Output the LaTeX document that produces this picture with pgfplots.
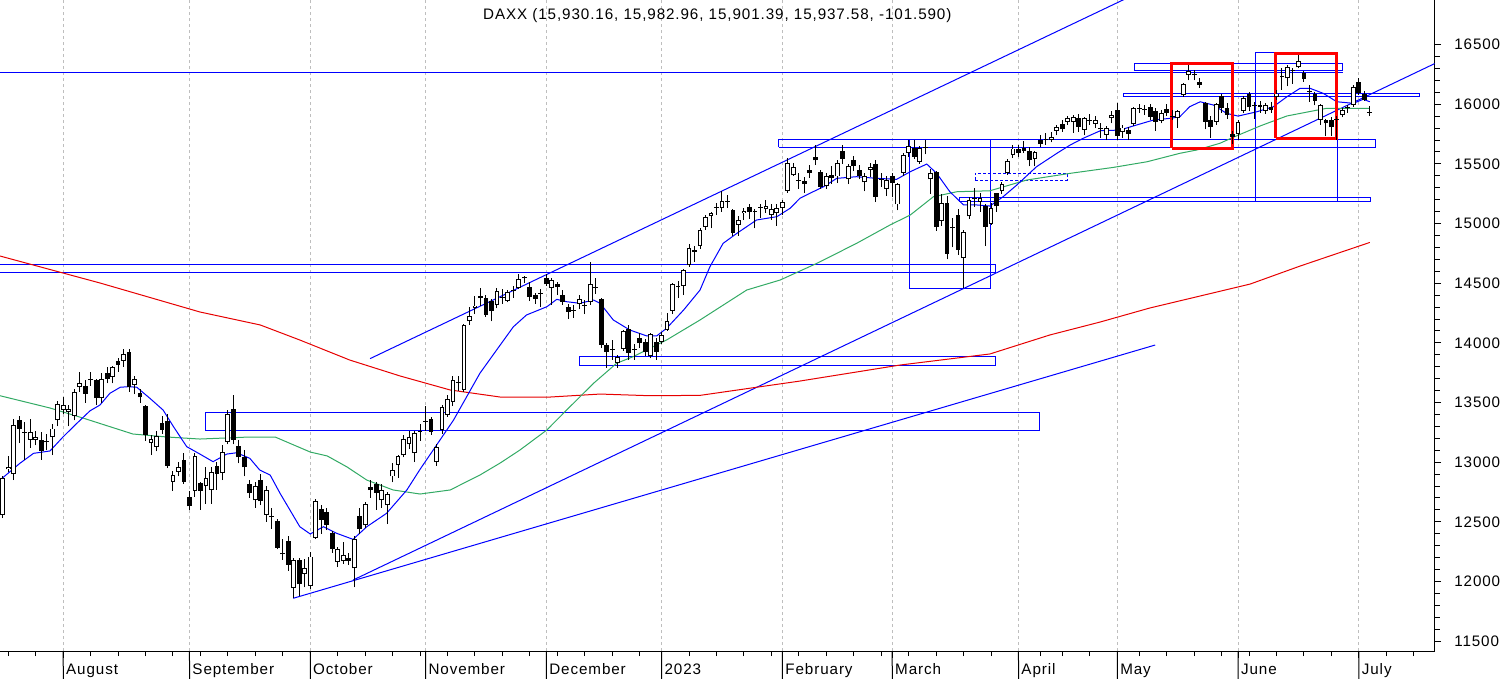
\documentclass[border=0pt]{standalone}
\usepackage{fontspec}
\setmainfont{Liberation Sans}[LetterSpace=6]
\usepackage{pgfplots}
\usepackage{pgfplotstable}
\pgfplotsset{compat=1.18}
\definecolor{magreen}{RGB}{50,170,100}
\definecolor{mared}{RGB}{230,0,0}
\definecolor{gridgray}{RGB}{190,190,190}
\newcommand{\lbl}{\fontsize{7.6}{9}\selectfont}

\pgfplotstableread{
k o h l c
0 12560 12880 12530 12865
1 12940 13050 12920 12959
2 12900 13360 12850 13308
3 13350 13390 13160 13282
4 13255 13340 13020 13246
5 13190 13360 13120 13254
6 13190 13260 13140 13210
7 13190 13250 13020 13097
8 13175 13240 13100 13166
9 13210 13320 13060 13282
10 13350 13510 13300 13484
11 13440 13550 13400 13479
12 13420 13480 13300 13449
13 13390 13610 13350 13587
14 13630 13760 13590 13662
15 13640 13690 13500 13573
16 13690 13760 13640 13688
17 13690 13700 13480 13535
18 13535 13750 13500 13700
19 13745 13800 13660 13694
20 13712 13810 13660 13795
21 13845 13870 13760 13816
22 13850 13950 13800 13910
23 13925 13950 13590 13626
24 13645 13720 13570 13697
25 13580 13610 13500 13544
26 13470 13480 13180 13230
27 13160 13230 13060 13194
28 13130 13260 13090 13220
29 13327 13390 13240 13271
30 13345 13400 12950 12971
31 12835 12930 12760 12892
32 12920 13000 12880 12961
33 13018 13080 12820 12834
34 12710 12760 12600 12630
35 12760 13080 12710 13050
36 12825 12830 12600 12761
37 12800 12960 12650 12871
38 12765 12960 12650 12916
39 12967 13000 12770 12904
40 12912 13140 12850 13088
41 13172 13440 13150 13402
42 13445 13564 13150 13189
43 13135 13190 12990 13040
44 13045 13100 12880 12956
45 12815 12850 12700 12741
46 12680 12830 12620 12803
47 12850 12900 12640 12671
48 12560 12800 12500 12767
49 12550 12620 12440 12540
50 12505 12520 12270 12284
51 12240 12360 12180 12227
52 12340 12380 12090 12140
53 11945 12200 11862 12183
54 12180 12200 11880 11975
55 12065 12190 11950 12114
56 11960 12250 11940 12209
57 12365 12690 12360 12671
58 12607 12640 12400 12517
59 12580 12620 12430 12471
60 12410 12420 12240 12273
61 12165 12290 12120 12272
62 12170 12330 12150 12220
63 12195 12240 12140 12172
64 12110 12380 11950 12355
65 12550 12620 12400 12438
66 12470 12670 12450 12649
67 12795 12850 12700 12765
68 12815 12830 12600 12741
69 12680 12820 12620 12767
70 12640 12750 12480 12731
71 12880 12990 12830 12931
72 12975 13060 12870 13052
73 13057 13230 13040 13196
74 13150 13260 13110 13211
75 13075 13260 13000 13243
76 13260 13320 13180 13253
77 13345 13470 13260 13338
78 13360 13380 13230 13256
79 13000 13150 12970 13130
80 13270 13480 13240 13460
81 13395 13560 13380 13533
82 13508 13720 13470 13689
83 13670 13720 13600 13667
84 13608 14160 13590 14146
85 14180 14300 14150 14224
86 14290 14390 14240 14313
87 14375 14460 14310 14390
88 14375 14400 14220 14234
89 14355 14370 14180 14267
90 14320 14460 14290 14431
91 14385 14450 14330 14380
92 14355 14440 14340 14423
93 14440 14480 14380 14432
94 14460 14580 14450 14539
95 14540 14560 14500 14541
96 14467 14510 14350 14383
97 14400 14420 14330 14366
98 14420 14450 14300 14412
99 14540 14580 14480 14490
100 14460 14540 14320 14529
101 14490 14510 14400 14467
102 14400 14440 14320 14343
103 14300 14330 14200 14261
104 14275 14320 14210 14268
105 14330 14400 14280 14370
106 14320 14360 14240 14312
107 14340 14675 14320 14497
108 14465 14540 14410 14461
109 14366 14380 13960 13986
110 13980 14000 13790 13925
111 13950 14020 13860 13942
112 13833 13900 13790 13884
113 13950 14110 13930 14098
114 14118 14150 13860 13914
115 13950 13990 13860 13941
116 14040 14080 13960 13995
117 14010 14030 13890 13926
118 13890 14080 13870 14071
119 14010 14040 13860 13924
120 14010 14090 13990 14069
121 14105 14250 14100 14181
122 14270 14500 14240 14490
123 14480 14520 14380 14470
124 14475 14620 14400 14610
125 14650 14830 14640 14792
126 14765 14810 14680 14780
127 14810 14960 14790 14948
128 14975 15070 14950 15058
129 15060 15100 14960 15086
130 15130 15170 15070 15134
131 15130 15275 15100 15187
132 15190 15240 15130 15181
133 15115 15125 14900 14920
134 14990 15060 14900 15033
135 15085 15130 15030 15103
136 15140 15160 15040 15100
137 15100 15120 14960 15095
138 15140 15160 15050 15132
139 15120 15200 15090 15150
140 15070 15160 15030 15126
141 15085 15160 14980 15128
142 15130 15200 15070 15180
143 15273 15550 15260 15509
144 15405 15510 15400 15476
145 15360 15420 15290 15355
146 15360 15390 15260 15330
147 15450 15490 15380 15420
148 15560 15660 15490 15530
149 15435 15450 15290 15308
150 15315 15420 15290 15397
151 15410 15480 15330 15385
152 15395 15530 15340 15506
153 15610 15660 15500 15545
154 15370 15500 15330 15482
155 15530 15570 15440 15480
156 15450 15490 15370 15400
157 15345 15420 15270 15400
158 15450 15510 15390 15475
159 15500 15530 15180 15223
160 15370 15420 15310 15365
161 15290 15400 15230 15365
162 15400 15420 15220 15340
163 15160 15340 15110 15328
164 15425 15590 15400 15578
165 15595 15700 15560 15650
166 15630 15700 15540 15559
167 15520 15650 15500 15630
168 15630 15700 15580 15633
169 15370 15460 15250 15425
170 15435 15440 14940 14970
171 15025 15250 14980 15175
172 15170 15230 14700 14745
173 14960 15050 14800 14970
174 15070 15120 14740 14780
175 14710 14950 14460 14933
176 15060 15220 15040 15200
177 15210 15300 15140 15216
178 15185 15260 15100 15212
179 15145 15160 14810 14975
180 15000 15170 14990 15128
181 15255 15260 15100 15145
182 15270 15350 15250 15329
183 15425 15540 15410 15523
184 15575 15660 15550 15629
185 15625 15660 15560 15590
186 15635 15690 15590 15610
187 15610 15640 15480 15530
188 15540 15610 15480 15598
189 15700 15740 15640 15665
190 15700 15760 15660 15703
191 15700 15770 15680 15725
192 15780 15830 15740 15810
193 15835 15870 15770 15790
194 15855 15900 15830 15882
195 15850 15910 15760 15890
196 15883 15920 15770 15812
197 15785 15890 15740 15883
198 15860 15920 15830 15862
199 15835 15900 15800 15870
200 15795 15840 15720 15790
201 15742 15820 15700 15800
202 15882 15940 15840 15910
203 15952 16010 15700 15733
204 15770 15830 15720 15805
205 15785 15810 15700 15750
206 15835 15980 15820 15968
207 15960 16000 15930 15960
208 15950 15990 15910 15955
209 15975 16000 15870 15895
210 15940 15970 15780 15855
211 15862 15950 15840 15930
212 15960 16000 15900 15925
213 15895 15950 15870 15895
214 15882 15950 15800 15945
215 16075 16180 16060 16170
216 16245 16330 16200 16280
217 16245 16290 16200 16245
218 16190 16220 16140 16165
219 16010 16020 15790 15855
220 15870 15900 15720 15810
221 15855 16010 15830 16000
222 16067 16090 15930 15967
223 15967 16010 15880 15910
224 15755 15780 15670 15728
225 15750 15870 15700 15855
226 15945 16070 15930 16050
227 16085 16100 15940 15975
228 15985 16020 15880 15985
229 15995 16030 15930 15975
230 15945 16010 15920 15990
231 15980 16020 15930 15952
232 16058 16120 16040 16090
233 16225 16300 16120 16225
234 16218 16330 16150 16310
235 16280 16300 16170 16280
236 16310 16413 16300 16360
237 16265 16280 16190 16210
238 16110 16160 16020 16105
239 16085 16100 15990 16030
240 15870 16000 15830 15995
241 15865 15880 15730 15840
242 15870 15890 15730 15807
243 15865 15900 15700 15865
244 15910 15970 15890 15950
245 15967 15990 15930 15967
246 15995 16160 15980 16145
247 16185 16220 16080 16092
248 16090 16110 16030 16040
249 15930 15983 15901 15938
}\candles

\begin{document}
\begin{tikzpicture}
\path[use as bounding box] (0,0) rectangle (753pt,-339.5pt);
\begin{axis}[
  at={(0,0)}, anchor=north west,
  scale only axis, width=717.3pt, height=325.5pt,
  xmin=-0.51, xmax=260.8, ymin=11417, ymax=16874,
  axis x line*=bottom, axis y line*=right,
  axis line style={black, line width=0.5pt},
  xtick={11,34,56,77,99,120,142,162,185,203,225,247},
  xticklabels={},
  minor xtick={1,6,16,21,26,31,36,41,46,51,61,66,71,76,81,86,91,96,101,106,111,116,125,130,135,140,145,150,155,160,165,170,175,180,189,193,198,207,212,217,222,227,232,237,242,252,257},
  ytick={11500,12000,...,16500},
  minor y tick num=4,
  scaled y ticks=false,
  tick align=outside,
  major tick length=3.3pt, minor tick length=2.5pt,
  tick style={black, line width=0.5pt},
  xmajorgrids,
  major grid style={gridgray, dash pattern=on 1.5pt off 1.5pt, line width=0.5pt},
  yticklabel style={font=\lbl, anchor=west, xshift=3pt, /pgf/number format/fixed, /pgf/number format/1000 sep={}},
  /pgf/number format/assume math mode=true,
  clip mode=individual,
  no markers,
]

% ---- horizontal zones and boxes (blue)
\addplot[blue, line width=0.5pt] coordinates {(-1,16268) (244.1,16268)};
\addplot[blue, line width=0.5pt] coordinates {(206.1,16281) (244.1,16281) (244.1,16343) (206.1,16343) (206.1,16281)};
\addplot[blue, line width=0.5pt] coordinates {(204.1,16063) (258.0,16063) (258.0,16092) (204.1,16092) (204.1,16063)};
\addplot[blue, line width=0.5pt] coordinates {(141.3,15639) (250.1,15639) (250.1,15708) (141.3,15708) (141.3,15639)};
\addplot[blue, line width=0.5pt] coordinates {(174.2,15183) (249.2,15183) (249.2,15220) (174.2,15220) (174.2,15183)};
\addplot[blue, line width=0.5pt, dash pattern=on 1.5pt off 1pt] coordinates {(177.1,15365) (193.9,15365) (193.9,15421) (177.1,15421) (177.1,15365)};
\addplot[blue, line width=0.5pt] coordinates {(165.1,14457) (179.9,14457) (179.9,15706) (165.1,15706) (165.1,14457)};
\addplot[blue, line width=0.5pt] coordinates {(-1,14591) (180.9,14591) (180.9,14658) (-1,14658) (-1,14591)};
\addplot[blue, line width=0.5pt] coordinates {(37.0,13264) (188.9,13264) (188.9,13418) (37.0,13418) (37.0,13264)};
\addplot[blue, line width=0.5pt] coordinates {(105.0,13812) (180.9,13812) (180.9,13889) (105.0,13889) (105.0,13812)};
\addplot[blue, line width=0.5pt] coordinates {(228.2,15183) (243.1,15183) (243.1,16435) (228.2,16435) (228.2,15183)};
% ---- trend lines
\addplot[blue, line width=0.5pt] coordinates {(66.9,13868) (210,17005)};
\addplot[blue, line width=0.5pt] coordinates {(63.8,12012) (260.9,16343)};
\addplot[blue, line width=0.5pt] coordinates {(52.9,11859) (209.9,13982)};

% ---- moving averages
\addplot[mared, line width=0.5pt] coordinates {(-0.51,14728) (17.7,14502) (35.9,14259) (46.9,14150) (54.1,14024) (63.2,13856) (72.4,13722) (81.5,13605) (90.6,13546) (99.7,13546) (108.8,13571) (117.9,13557) (127.0,13560) (145.2,13680) (163.4,13814) (179.8,13907) (190.7,14066) (199.9,14175) (208.9,14292) (218.1,14393) (227.2,14493) (236.3,14644) (249.0,14842)};
\addplot[magreen, line width=0.5pt] coordinates {(-0.51,13557) (8.6,13454) (14.6,13370) (23.7,13236) (29.9,13211) (35.9,13194) (45.0,13211) (49.6,13211) (56.0,13085) (59.1,13052) (62.7,12960) (66.3,12850) (71.1,12767) (76.0,12733) (81.5,12767) (86.9,12892) (90.6,12993) (94.2,13102) (99.1,13270) (102.7,13437) (107.6,13661) (111.8,13829) (114.8,13884) (120.9,14024) (127.0,14192) (135.5,14443) (141.6,14527) (148.3,14667) (155.5,14834) (161.6,14988) (165.3,15072) (169.5,15225) (173.8,15267) (179.8,15275) (186.5,15365) (194.4,15421) (202.3,15471) (208.4,15518) (214.4,15589) (217.5,15617) (221.7,15673) (224.1,15723) (229.0,15818) (233.9,15902) (241.1,15966) (249.0,15966)};
\addplot[blue, line width=0.5pt] coordinates {(-0.51,12850) (3.1,12990) (5.6,13074) (8.6,13094) (11.0,13213) (13.5,13326) (15.9,13431) (17.7,13479) (19.5,13577) (21.4,13628) (22.9,13633) (24.4,13628) (26.8,13535) (29.2,13437) (31.1,13297) (33.5,13130) (35.9,13068) (38.3,13004) (40.8,13068) (42.6,13079) (45.0,13032) (46.8,12934) (48.7,12892) (50.5,12739) (52.3,12599) (54.1,12459) (56.0,12398) (58.4,12459) (60.8,12404) (63.8,12353) (66.3,12459) (69.9,12571) (73.6,12767) (76.0,12940) (78.4,13102) (82.1,13353) (84.5,13549) (86.9,13745) (90.6,13982) (93.0,14135) (95.4,14234) (99.1,14303) (100.9,14365) (102.7,14345) (105.1,14332) (107.6,14359) (108.8,14332) (111.2,14192) (114.2,14108) (117.3,14058) (119.1,14058) (120.9,14122) (124.0,14275) (127.0,14443) (128.8,14638) (131.2,14834) (133.7,14918) (137.3,15030) (141.0,15058) (143.4,15128) (145.2,15212) (147.6,15267) (149.5,15309) (151.9,15379) (155.5,15393) (159.2,15379) (162.8,15371) (165.3,15435) (168.3,15499) (170.1,15421) (172.5,15267) (175.0,15156) (177.4,15156) (179.8,15147) (182.2,15225) (184.7,15323) (188.3,15477) (192.0,15589) (194.4,15658) (196.8,15715) (199.9,15778) (203.5,15784) (205.9,15818) (209.6,15868) (212.6,15882) (214.4,15896) (216.2,15980) (218.1,16021) (220.5,15994) (222.9,15924) (225.0,15901) (228.4,15937) (231.4,15979) (233.9,16063) (236.3,16134) (238.1,16134) (240.5,16092) (243.0,16021) (246.0,16008) (247.8,16042) (249.0,16021)};

% ---- red boxes
\addplot[red, line width=1.5pt] coordinates {(212.9,15631) (223.9,15631) (223.9,16343) (212.9,16343) (212.9,15631)};
\addplot[red, line width=1.5pt] coordinates {(231.9,15715) (243.0,15715) (243.0,16427) (231.9,16427) (231.9,15715)};

% ---- candlesticks: wicks, bodies, hollow up-bodies
\addplot[draw=none, forget plot, error bars/.cd, y dir=plus, y explicit, error mark=none,
  error bar style={draw=black, line width=0.5pt}]
  table[x=k, y=l, y error plus expr={\thisrow{h}-\thisrow{l}}] {\candles};
\addplot[draw=none, forget plot, error bars/.cd, y dir=plus, y explicit, error mark=none,
  error bar style={draw=black, line width=2.4pt}]
  table[x=k, y expr={min(\thisrow{o},\thisrow{c})}, y error plus expr={max(abs(\thisrow{c}-\thisrow{o}),8)}] {\candles};
\addplot[draw=none, forget plot, error bars/.cd, y dir=plus, y explicit, error mark=none,
  error bar style={draw=white, line width=1.4pt}]
  table[x=k, y expr={min(\thisrow{o},\thisrow{c})+8}, y error plus expr={max(\thisrow{c}-\thisrow{o}-16,0)}] {\candles};

% ---- month separators and labels
\foreach \m/\t in {11/August,34/September,56/October,77/November,99/December,120/2023,142/February,162/March,185/April,203/May,225/June,247/July}{
  \edef\tmp{\noexpand\draw[black, line width=0.5pt] (axis cs:\m,11417) -- ++(0,-14.5pt);
    \noexpand\node[anchor=base west, font=\noexpand\lbl, inner sep=0pt] at ([xshift=1.3pt, yshift=-11.5pt]axis cs:\m,11417) {\t};}
  \tmp
}
\node[font=\lbl, anchor=center] at ([yshift=-8pt]rel axis cs:0.5,1) {DAXX (15,930.16, 15,982.96, 15,901.39, 15,937.58, -101.590)};
\end{axis}
\end{tikzpicture}
\end{document}
